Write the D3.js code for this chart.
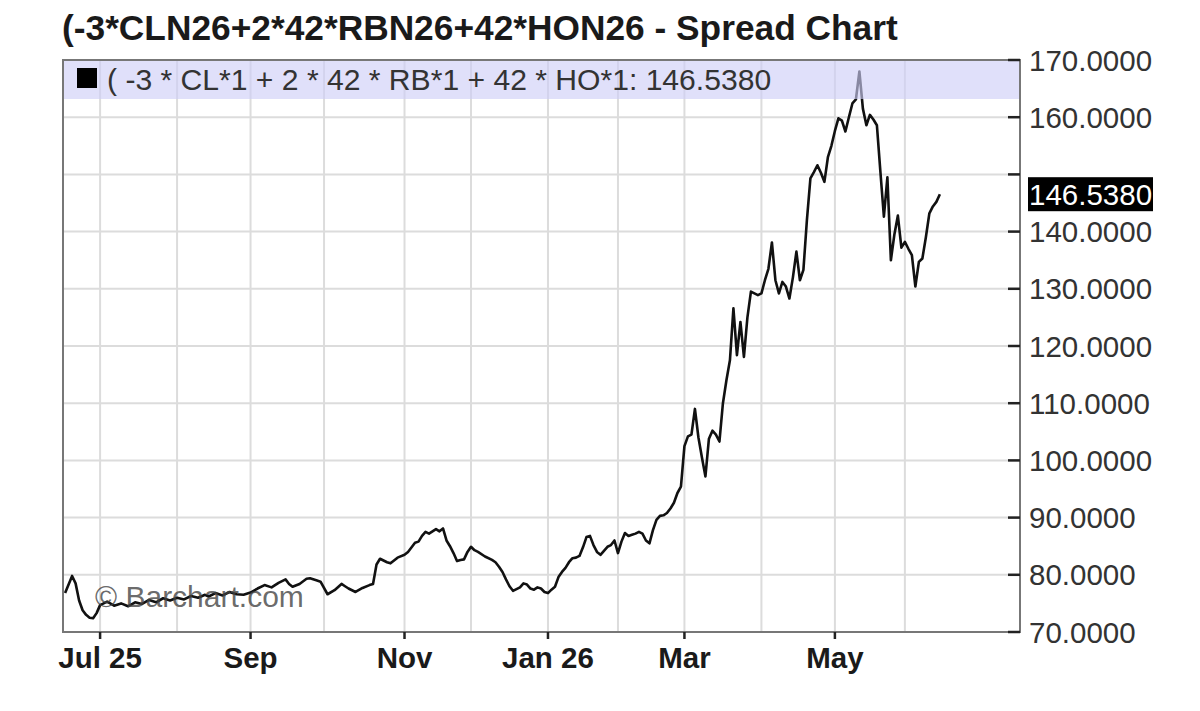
<!DOCTYPE html>
<html>
<head>
    <script type="text/javascript" src="https://d3js.org/d3.v7.min.js"></script>
    <style>
        body {
            margin: 0;
            background-color: #ffffff;
        }
        svg {
            display: block;
            font-family: "Liberation Sans", Arial, sans-serif;
        }
    </style>
</head>

<body>
    <svg></svg>

    <script>
        // Chart texts
        const titleText = "(-3*CLN26+2*42*RBN26+42*HON26 - Spread Chart";
        const legendText = "( -3 * CL*1 + 2 * 42 * RB*1 + 42 * HO*1: 146.5380";
        const lastValue = 146.538;

        // x axis runs on trading sessions, 0 = first session of Jul 2025
        const sessionDomain = [-10.6, 262.9];
        const monthStart = [0, 22, 43, 64, 87, 106, 128, 148, 167, 189, 210, 230];
        const monthLabel = ["Jul 25", "", "Sep", "", "Nov", "", "Jan 26", "", "Mar", "", "May", ""];
        const yTicks = [70, 80, 90, 100, 110, 120, 130, 140, 150, 160, 170];
        const yLabelTicks = [70, 80, 90, 100, 110, 120, 130, 140, 160, 170];

        // Spread values
        const session = [
            -10, -8, -7, -6, -5, -4, -3, -2, -1, 0,
            2, 4, 6, 8, 10, 12, 14, 16, 18, 20,
            22, 24, 26, 28, 30, 31, 33, 35, 37, 39,
            41, 43, 45, 47, 49, 51, 53, 54, 55, 57,
            59, 60, 62, 63, 65, 67, 69, 70, 71, 73,
            75, 77, 78, 79, 80, 82, 83, 85, 87, 88,
            90, 91, 92, 93, 94, 95, 96, 97, 98, 99,
            100, 101, 102, 103, 104, 105, 106, 107, 108, 110,
            112, 113, 114, 115, 116, 117, 118, 119, 120, 121,
            122, 123, 124, 125, 126, 127, 128, 129, 130, 131,
            132, 133, 134, 135, 136, 137, 138, 139, 140, 141,
            142, 143, 144, 145, 146, 147, 148, 149, 150, 151,
            152, 153, 154, 155, 156, 157, 158, 159, 160, 161,
            162, 163, 164, 165, 166, 167, 168, 169, 170, 171,
            172, 173, 174, 175, 176, 177, 178, 179, 180, 181,
            182, 183, 184, 185, 186, 187, 188, 189, 190, 191,
            192, 193, 194, 195, 196, 197, 198, 199, 200, 201,
            202, 203, 204, 205, 206, 207, 208, 209, 210, 211,
            212, 213, 214, 215, 216, 217, 218, 219, 220, 221,
            222, 223, 224, 225, 226, 227, 228, 229, 230, 231,
            232, 233, 234, 235, 236, 237, 238, 239, 240
        ];
        const spread = [
            76.8, 79.8, 78.5, 75.5, 73.8, 73.0, 72.5, 72.4, 73.3, 74.7,
            75.3, 74.6, 75.0, 74.5, 75.2, 74.9, 75.6, 75.2, 75.9, 75.5,
            76.0, 75.7, 76.3, 76.0, 76.5, 76.2, 76.8, 76.4, 77.0, 76.6,
            76.5, 76.9, 77.6, 78.2, 77.8, 78.6, 79.2, 78.4, 77.9, 78.4,
            79.3, 79.4, 79.0, 78.8, 76.6, 77.3, 78.4, 78.0, 77.6, 77.0,
            77.7, 78.2, 78.4, 81.8, 82.8, 82.2, 82.0, 83.0, 83.5, 84.0,
            85.6, 85.8, 86.8, 87.5, 87.2, 87.6, 88.0, 87.6, 88.1, 86.0,
            85.0, 83.8, 82.4, 82.6, 82.7, 84.0, 84.9, 84.3, 84.0, 83.2,
            82.6, 82.2, 81.4, 80.5, 79.2, 78.0, 77.2, 77.5, 77.8, 78.5,
            78.3, 77.6, 77.4, 77.8, 77.6, 77.0, 76.8, 77.4, 77.9, 79.6,
            80.5, 81.2, 82.2, 82.9, 83.0, 83.3, 84.8, 86.6, 86.8, 85.2,
            84.0, 83.5, 84.2, 84.9, 85.2, 86.0, 83.8, 85.8, 87.3, 86.8,
            87.0, 87.2, 87.5, 87.2, 86.0, 85.5, 87.8, 89.6, 90.3, 90.4,
            90.8, 91.6, 92.6, 94.3, 95.4, 102.5, 104.2, 104.5, 109.0, 104.0,
            100.5, 97.2, 103.8, 105.2, 104.5, 103.3, 110.0, 114.0, 117.5, 126.6,
            118.4, 124.2, 118.1, 125.0, 129.5, 129.2, 128.9, 129.2, 131.5, 133.5,
            138.1, 131.5, 129.2, 131.2, 130.4, 128.3, 132.0, 136.5, 131.5, 133.3,
            142.0, 149.3, 150.4, 151.6, 150.3, 148.7, 153.0, 155.0, 157.6, 159.8,
            159.4, 157.5, 160.0, 162.4, 163.1, 168.0, 161.5, 158.6, 160.4, 159.6,
            158.6, 150.5, 142.6, 149.5, 135.0, 139.5, 142.8, 137.2, 138.2, 137.0,
            135.9, 130.4, 134.7, 135.3, 139.0, 143.2, 144.4, 145.2, 146.538
        ];

        const width = 1200, height = 711;
        const plot = { left: 63, right: 1020, top: 60, bottom: 632 };

        const svg = d3.select("svg").attr("width", width).attr("height", height);

        const x = d3.scaleLinear().domain(sessionDomain).range([plot.left, plot.right]);
        const y = d3.scaleLinear().domain([70, 170]).range([plot.bottom, plot.top]);

        // Title
        svg.append("text")
            .attr("x", 62)
            .attr("y", 40)
            .attr("font-size", 35.3)
            .attr("font-weight", "bold")
            .attr("fill", "#1a1a1a")
            .text(titleText);

        // Grid lines
        const grid = svg.append("g");
        grid.selectAll(".hgrid")
            .data(yTicks.filter(d => d > 70 && d < 170))
            .enter()
            .append("line")
            .attr("x1", plot.left).attr("x2", plot.right)
            .attr("y1", d => y(d)).attr("y2", d => y(d))
            .attr("stroke", "#dcdcdc")
            .attr("stroke-width", 2);
        grid.selectAll(".vgrid")
            .data(monthStart)
            .enter()
            .append("line")
            .attr("x1", d => x(d)).attr("x2", d => x(d))
            .attr("y1", plot.top).attr("y2", plot.bottom)
            .attr("stroke", "#dcdcdc")
            .attr("stroke-width", 2);

        // Spread line
        const points = session.map((s, i) => [s, spread[i]]);
        const line = d3.line().x(d => x(d[0])).y(d => y(d[1]));
        svg.append("path")
            .datum(points)
            .attr("d", line)
            .attr("fill", "none")
            .attr("stroke", "#111")
            .attr("stroke-width", 2.6)
            .attr("stroke-linejoin", "round");

        // Watermark
        svg.append("text")
            .attr("x", 95)
            .attr("y", 607)
            .attr("font-size", 30)
            .attr("fill", "#444")
            .attr("fill-opacity", 0.8)
            .text("\u00a9 Barchart.com");

        // Legend band (drawn over the line, semi transparent)
        svg.append("rect")
            .attr("x", plot.left)
            .attr("y", plot.top)
            .attr("width", plot.right - plot.left)
            .attr("height", 39)
            .attr("fill", "rgb(206,206,247)")
            .attr("fill-opacity", 0.63);
        svg.append("rect")
            .attr("x", 77).attr("y", 68)
            .attr("width", 20).attr("height", 20)
            .attr("fill", "#000");
        svg.append("text")
            .attr("x", 107)
            .attr("y", 90)
            .attr("font-size", 30.1)
            .attr("fill", "#333")
            .text(legendText);

        // Plot frame
        svg.append("rect")
            .attr("x", plot.left).attr("y", plot.top)
            .attr("width", plot.right - plot.left)
            .attr("height", plot.bottom - plot.top)
            .attr("fill", "none")
            .attr("stroke", "#777")
            .attr("stroke-width", 2);

        // Right value axis
        const yAxis = svg.append("g");
        yAxis.selectAll(".ytick")
            .data(yTicks)
            .enter()
            .append("line")
            .attr("x1", plot.right - 12).attr("x2", plot.right)
            .attr("y1", d => y(d)).attr("y2", d => y(d))
            .attr("stroke", "#222")
            .attr("stroke-width", 2.5);
        yAxis.selectAll(".ylabel")
            .data(yLabelTicks)
            .enter()
            .append("text")
            .attr("x", plot.right + 9)
            .attr("y", d => y(d))
            .attr("dy", "0.36em")
            .attr("font-size", 29.5)
            .attr("fill", "#333")
            .text(d => d3.format(".4f")(d));

        // Last value marker
        svg.append("rect")
            .attr("x", plot.right + 8)
            .attr("y", y(lastValue) - 17)
            .attr("width", 125)
            .attr("height", 34)
            .attr("fill", "#000");
        svg.append("text")
            .attr("x", plot.right + 9)
            .attr("y", y(lastValue))
            .attr("dy", "0.36em")
            .attr("font-size", 29.5)
            .attr("fill", "#fff")
            .text(d3.format(".4f")(lastValue));

        // Month axis: ticks and labels only on labelled months
        const labelled = monthStart
            .map((s, i) => ({ s: s, label: monthLabel[i] }))
            .filter(d => d.label !== "");
        const xAxis = svg.append("g");
        xAxis.selectAll(".xtick")
            .data(labelled)
            .enter()
            .append("line")
            .attr("x1", d => x(d.s)).attr("x2", d => x(d.s))
            .attr("y1", plot.bottom).attr("y2", plot.bottom + 7)
            .attr("stroke", "#222")
            .attr("stroke-width", 2.5);
        xAxis.selectAll(".xlabel")
            .data(labelled)
            .enter()
            .append("text")
            .attr("x", d => x(d.s))
            .attr("y", 668)
            .attr("text-anchor", "middle")
            .attr("font-size", 29.5)
            .attr("font-weight", "bold")
            .attr("fill", "#1a1a1a")
            .text(d => d.label);
    </script>
</body>
</html>
